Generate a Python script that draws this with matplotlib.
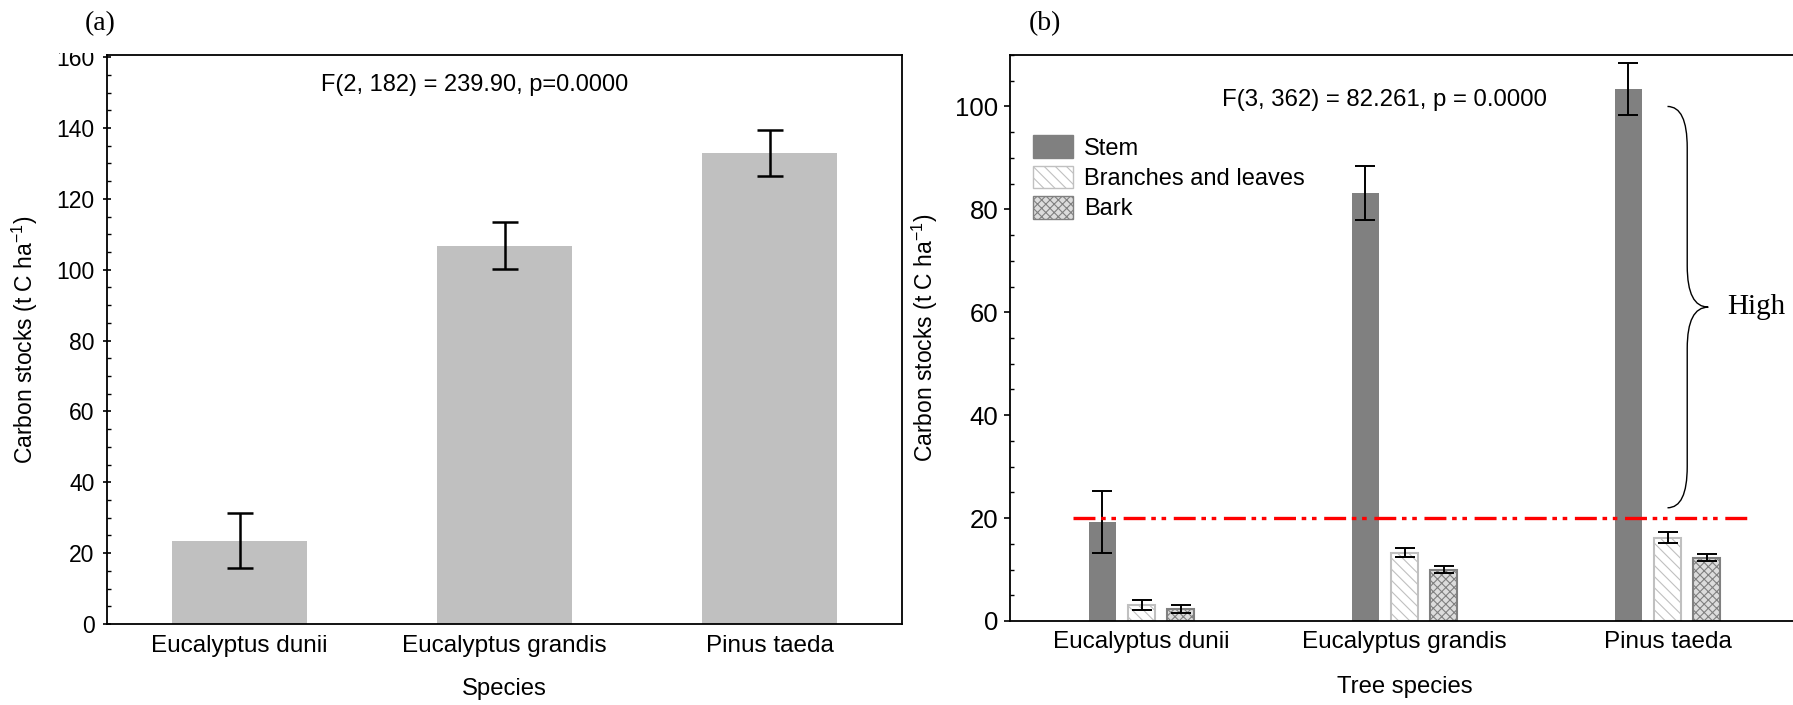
import matplotlib
matplotlib.use("Agg")
import matplotlib.pyplot as plt
import numpy as np
from matplotlib.path import Path
from matplotlib.patches import PathPatch, Patch, Rectangle
from matplotlib.ticker import MultipleLocator

plt.rcParams['font.family'] = ['Liberation Sans', 'DejaVu Sans']
plt.rcParams['mathtext.default'] = 'regular'
plt.rcParams['hatch.linewidth'] = 0.8
plt.rcParams['lines.scale_dashes'] = False

# ---- data -------------------------------------------------------------
species = ["Eucalyptus dunii", "Eucalyptus grandis", "Pinus taeda"]

total_mean = [23.5, 106.8, 132.9]
total_err = [7.7, 6.7, 6.4]

components = ["Stem", "Branches and leaves", "Bark"]
stem_mean = [19.2, 83.2, 103.4]
stem_err = [6.0, 5.2, 5.0]
branch_mean = [3.1, 13.3, 16.2]
branch_err = [1.0, 0.9, 1.0]
bark_mean = [2.3, 10.0, 12.3]
bark_err = [0.8, 0.7, 0.7]

threshold = 20
high_range = (22, 100)

stat_a = "F(2, 182) = 239.90, p=0.0000"
stat_b = "F(3, 362) = 82.261, p = 0.0000"
ylab = "Carbon stocks (t C ha$^{-1}$)"

# ---- figure -----------------------------------------------------------
W, H = 1793, 705
fig = plt.figure(figsize=(W / 100, H / 100), dpi=100)
fig.patch.set_facecolor("white")


def px_axes(left, top, right, bottom):
    return fig.add_axes([left / W, (H - bottom) / H, (right - left) / W, (bottom - top) / H])


# ---- panel (a) --------------------------------------------------------
ax1 = px_axes(107, 55, 902, 624)
x1 = np.arange(len(species))
ax1.bar(x1, total_mean, width=0.506, color="#c0c0c0", zorder=2)
ax1.errorbar(x1, total_mean, yerr=total_err, fmt="none", ecolor="black",
             elinewidth=1.8, capsize=9.5, capthick=1.8, zorder=3)
ax1.set_xlim(-0.5, 2.5)
ax1.set_ylim(0, 160.6)
ax1.set_xticks(x1)
ax1.set_xticklabels(species, fontsize=17.5)
ax1.yaxis.set_major_locator(MultipleLocator(20))
ax1.yaxis.set_minor_locator(MultipleLocator(5))
ax1.tick_params(axis="y", which="major", direction="inout", length=6, width=1.2,
                labelsize=16.5, pad=6)
ax1.tick_params(axis="y", which="minor", direction="in", length=3, width=1.0)
ax1.tick_params(axis="x", which="major", length=0, pad=8)
ax1.set_ylabel(ylab, fontsize=16.5)
ax1.yaxis.set_label_coords(-0.084, 0.5)
ax1.set_xlabel("Species", fontsize=17.2)
ax1.xaxis.set_label_coords(0.5, -0.095)
for s in ax1.spines.values():
    s.set_linewidth(1.3)
ax1.text(0.462, 0.947, stat_a, transform=ax1.transAxes, ha="center", va="center",
         fontsize=17)

# panel letter with its white backing, which trims the top of the "160" label
fig.add_artist(Rectangle((40 / W, 1 - 53 / H), 60 / W, 53 / H, transform=fig.transFigure,
                         facecolor="white", edgecolor="none", zorder=5))
fig.text(100 / W, 1 - 24 / H, "(a)", family="Liberation Serif", fontsize=20,
         ha="center", va="center", zorder=6)

# ---- panel (b) --------------------------------------------------------
ax2 = px_axes(1010, 55, 1799, 621)
x2 = np.arange(len(species))
off, bw = 0.15, 0.103
ax2.bar(x2 - off, stem_mean, width=bw, color="#808080", edgecolor="#808080",
        linewidth=0, zorder=2)
ax2.bar(x2, branch_mean, width=bw, color="white", edgecolor="#c0c0c0",
        hatch="\\\\\\", linewidth=1.5, zorder=2)
ax2.bar(x2 + off, bark_mean, width=bw, color="#dcdcdc", edgecolor="#808080",
        hatch="xxxx", linewidth=1.5, zorder=2)
for xs, m, e in [(x2 - off, stem_mean, stem_err), (x2, branch_mean, branch_err),
                 (x2 + off, bark_mean, bark_err)]:
    ax2.errorbar(xs, m, yerr=e, fmt="none", ecolor="black", elinewidth=1.4,
                 capsize=7.5, capthick=1.4, zorder=3)

ax2.plot([-0.26, 2.306], [threshold, threshold], color="red", lw=2.4,
         dashes=[15.8, 4.1, 3.3, 4.1, 3.3, 5.5], zorder=4)

ax2.set_xlim(-0.5, 2.5)
ax2.set_ylim(0, 110)
ax2.set_xticks(x2)
ax2.set_xticklabels(species, fontsize=17.5)
ax2.yaxis.set_major_locator(MultipleLocator(20))
ax2.yaxis.set_minor_locator(MultipleLocator(5))
ax2.tick_params(axis="y", which="major", direction="out", length=4, width=1.2,
                labelsize=18.5, pad=4.5)
ax2.tick_params(axis="y", which="minor", direction="in", length=3, width=1.0)
ax2.tick_params(axis="x", which="major", direction="in", length=4, width=1.2, pad=7)
ax2.set_ylabel(ylab, fontsize=16.5)
ax2.yaxis.set_label_coords(-0.089, 0.5)
ax2.set_xlabel("Tree species", fontsize=17.2)
ax2.xaxis.set_label_coords(0.5, -0.097)
for s in ax2.spines.values():
    s.set_linewidth(1.3)
ax2.text(0.475, 0.92, stat_b, transform=ax2.transAxes, ha="center", va="center",
         fontsize=17.3)
fig.text(1045 / W, 1 - 24 / H, "(b)", family="Liberation Serif", fontsize=20,
         ha="center", va="center")

handles = [
    Patch(facecolor="#808080", edgecolor="#808080", label=components[0]),
    Patch(facecolor="white", edgecolor="#c0c0c0", hatch="\\\\\\", label=components[1]),
    Patch(facecolor="#dcdcdc", edgecolor="#808080", hatch="xxxx", label=components[2]),
]
ax2.legend(handles=handles, loc="upper left", bbox_to_anchor=(0.029, 0.858),
           frameon=False, fontsize=17, handlelength=1.7, handleheight=1.1,
           handletextpad=0.45, labelspacing=0.25, borderpad=0, borderaxespad=0)

# curly brace marking the high-stock range
ylo, yhi = high_range
ymid = (ylo + yhi) / 2
xe, xv, xt = 2.0, 2.075, 2.155
h = 8.0
verts = [(xe, yhi), (xv, yhi), (xv, yhi - h),
         (xv, ymid + h), (xv, ymid), (xt, ymid),
         (xv, ymid), (xv, ymid - h),
         (xv, ylo + h), (xv, ylo), (xe, ylo)]
codes = [Path.MOVETO, Path.CURVE3, Path.CURVE3,
         Path.LINETO, Path.CURVE3, Path.CURVE3,
         Path.CURVE3, Path.CURVE3,
         Path.LINETO, Path.CURVE3, Path.CURVE3]
ax2.add_patch(PathPatch(Path(verts, codes), facecolor="none", edgecolor="black",
                        lw=1.0, clip_on=False))
ax2.text(2.226, ymid, "High", family="Liberation Serif", fontsize=21,
         ha="left", va="center")

fig.savefig("out.png", dpi=100, facecolor="white")
